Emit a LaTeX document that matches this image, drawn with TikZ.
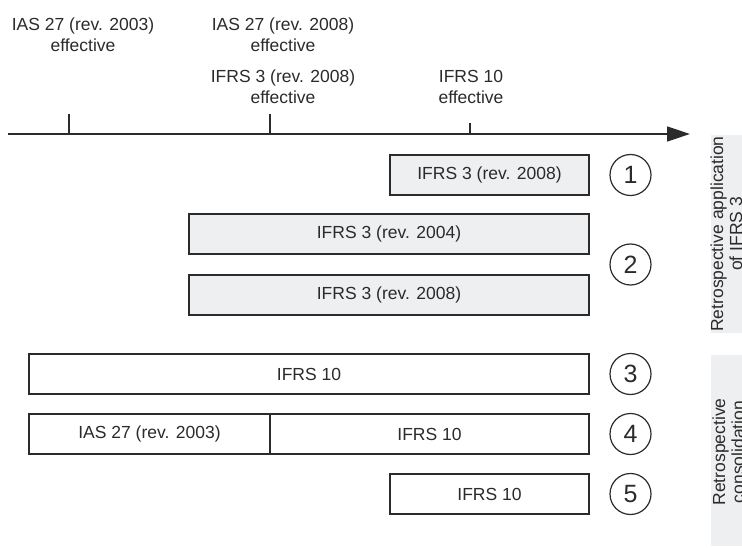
\documentclass[tikz,border=0pt]{standalone}
\usepackage{fontspec}
\setmainfont{Liberation Sans}
\usetikzlibrary{arrows.meta}
\definecolor{boxfill}{HTML}{EEEFF1}
\definecolor{ink}{HTML}{2B2B2B}
\begin{document}
\begin{tikzpicture}[x=1pt,y=-1pt,
  lbl/.style={font=\fontsize{17.5}{21}\selectfont, text=ink, inner sep=0pt, align=center, anchor=base},
  period/.style={draw=ink, line width=1.4pt, inner sep=0pt, minimum height=40pt,
                 font=\fontsize{17.5}{21}\selectfont, text=ink},
  shaded/.style={period, fill=boxfill},
  plain/.style={period, fill=white},
  num/.style={circle, draw=ink, line width=1.2pt, minimum size=41pt, inner sep=0pt,
              font=\fontsize{25}{25}\selectfont, text=ink},
  sidetext/.style={font=\fontsize{17.5}{19}\selectfont, text=ink, rotate=90,
                   align=center, inner sep=0pt, anchor=base},
  tick/.style={draw=ink, line width=1.4pt},
]
\useasboundingbox (0,0) rectangle (742,548);
\clip (0,0) rectangle (742,548);

% side panels with rotated captions (anchored on the last line's baseline)
\fill[boxfill] (711,135) rectangle (760,333);
\fill[boxfill] (711,355) rectangle (760,546);
\node[sidetext] (s1) at (742,234) {Retrospective application\\of IFRS 3};
\node[sidetext] (s2) at (744,452) {Retrospective\\consolidation};

% time axis
\coordinate (t0) at (8,134);
\coordinate (t1) at (690,134);
\draw[ink, line width=1.4pt, -{Triangle[length=23pt,width=15pt]}] (t0) -- (t1);

% ticks
\coordinate (k1a) at (69,114);  \coordinate (k1b) at (69,134);
\coordinate (k2a) at (270,114); \coordinate (k2b) at (270,134);
\coordinate (k3a) at (470,123); \coordinate (k3b) at (470,134);
\draw[tick] (k1a) -- (k1b);
\draw[tick] (k2a) -- (k2b);
\draw[tick] (k3a) -- (k3b);

% tick captions (anchored on the baseline of "effective")
\node[lbl] (l1) at (83,52) {IAS 27 (rev. 2003)\\effective};
\node[lbl] (l2) at (283,52) {IAS 27 (rev. 2008)\\effective};
\node[lbl] (l3) at (283,104) {IFRS 3 (rev. 2008)\\effective};
\node[lbl] (l4) at (471,104) {IFRS 10\\effective};

% periods
\node[shaded, minimum width=199pt] (b1)  at (489.5,175) {IFRS 3 (rev. 2008)};
\node[shaded, minimum width=400pt] (b2a) at (389,234) {IFRS 3 (rev. 2004)};
\node[shaded, minimum width=400pt] (b2b) at (389,295) {IFRS 3 (rev. 2008)};
\node[plain,  minimum width=560pt] (b3)  at (309,374) {IFRS 10};
\node[plain,  minimum width=241pt] (b4a) at (149.5,434) {IAS 27 (rev. 2003)};
\node[plain,  minimum width=319pt] (b4b) at (429.5,434) {IFRS 10};
\node[plain,  minimum width=199pt] (b5)  at (489.5,494) {IFRS 10};

% case numbers
\node[num] (n1) at (630.5,175) {1};
\node[num] (n2) at (630.5,264.5) {2};
\node[num] (n3) at (630.5,374) {3};
\node[num] (n4) at (630.5,434) {4};
\node[num] (n5) at (630.5,494) {5};
\end{tikzpicture}
\end{document}
